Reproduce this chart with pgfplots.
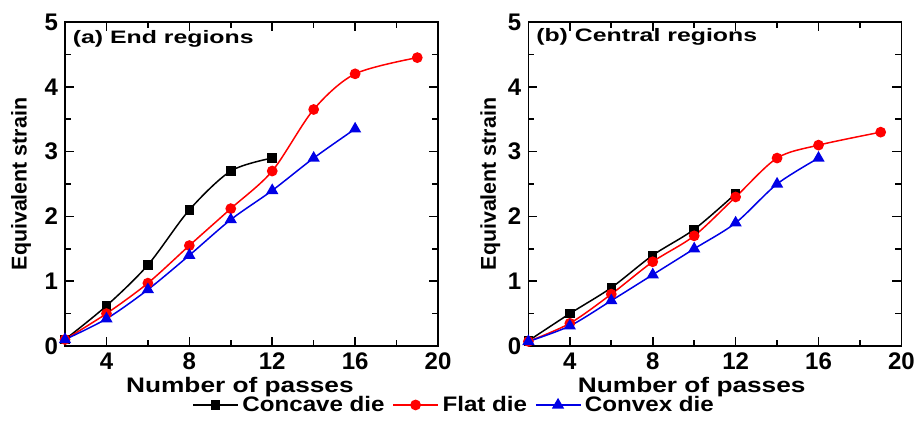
\documentclass[border=0pt]{standalone}
\usepackage{pgfplots}
\pgfplotsset{compat=1.18}
\usepackage{fontspec}
\setmainfont{Liberation Sans}
\usepackage{graphicx}
\definecolor{myred}{RGB}{255,0,0}
\definecolor{myblue}{RGB}{0,0,230}
\pgfplotsset{
  myax/.style={
    scale only axis, width=186.5pt, height=162pt,
    xmin=2, xmax=20, ymin=0, ymax=5,
    xtick={4,8,12,16,20}, ytick={0,1,2,3,4,5},
    minor x tick num=1, minor y tick num=1,
    tick align=inside, major tick length=4.5pt, minor tick length=3pt,
    axis line style={line width=0.9pt},
    every tick/.style={line width=0.8pt, black},
    /pgf/number format/assume math mode=true,
    ticklabel style={font=\fontsize{12}{12}\selectfont\bfseries},
    ylabel style={font=\fontsize{10.7}{10.7}\selectfont\bfseries, anchor=center, rotate=0},
    xlabel style={font=\fontsize{10.5}{10.5}\selectfont\bfseries, anchor=center},
    clip=false,
  },
  cc/.style={black, line width=0.75pt, smooth, mark=square*, mark size=2pt, mark options={solid}},
  ff/.style={myred, line width=0.75pt, smooth, mark=*, mark size=2.3pt, mark options={solid}},
  vv/.style={myblue, line width=0.75pt, smooth, mark=triangle*, mark size=2.8pt, mark options={solid}},
}
\begin{document}
\begin{tikzpicture}
\useasboundingbox (0,0) rectangle (457pt,213pt);
% ---------------- (a) ----------------
\begin{axis}[myax, at={(32.5pt,40pt)}, anchor=south west,
  xlabel={\scalebox{1.25}[1]{Number of passes}},
  ylabel={Equivalent strain},
  xlabel style={at={(axis description cs:0.469,-0.1265)}},
  ylabel style={at={(axis description cs:-0.118,0.5)}},
  legend columns=3,
  legend style={draw=none, fill=none, at={(axis description cs:1.046,-0.182)}, anchor=center,
    font=\fontsize{10.5}{10.5}\selectfont\bfseries,
    /tikz/every even column/.append style={column sep=2pt}},
  legend image code/.code={\draw[mark repeat=2,mark phase=2] plot coordinates {(0cm,0cm)(0.39cm,0cm)(0.78cm,0cm)};},
]
\addplot[cc] coordinates {(2,0.1)(4,0.62)(6,1.25)(8,2.1)(10,2.7)(12,2.9)};
\addlegendentry{\scalebox{1.15}[1]{Concave die}}
\addplot[ff] coordinates {(2,0.1)(4,0.5)(6,0.97)(8,1.55)(10,2.12)(12,2.7)(14,3.65)(16,4.2)(19,4.45)};
\addlegendentry{\scalebox{1.15}[1]{Flat die}}
\addplot[vv] coordinates {(2,0.1)(4,0.42)(6,0.87)(8,1.4)(10,1.95)(12,2.4)(14,2.9)(16,3.35)};
\addlegendentry{\scalebox{1.15}[1]{Convex die}}
\node[anchor=west, inner sep=0pt] at (axis description cs:0.02,0.947)
  {\fontsize{9}{9}\selectfont\bfseries\scalebox{1.38}[1]{(a) End regions}};
\end{axis}
% ---------------- (b) ----------------
\begin{axis}[myax, at={(264.2pt,40pt)}, anchor=south west,
  xlabel={\scalebox{1.25}[1]{Number of passes}},
  ylabel={Equivalent strain},
  xlabel style={at={(axis description cs:0.438,-0.1265)}},
  ylabel style={at={(axis description cs:-0.102,0.5)}},
]
\addplot[cc] coordinates {(2,0.08)(4,0.5)(6,0.9)(8,1.4)(10,1.8)(12,2.35)};
\addplot[ff] coordinates {(2,0.07)(4,0.35)(6,0.8)(8,1.3)(10,1.7)(12,2.3)(14,2.9)(16,3.1)(19,3.3)};
\addplot[vv] coordinates {(2,0.07)(4,0.31)(6,0.7)(8,1.1)(10,1.5)(12,1.9)(14,2.5)(16,2.9)};
\node[anchor=west, inner sep=0pt] at (axis description cs:0.02,0.955)
  {\fontsize{9}{9}\selectfont\bfseries\scalebox{1.38}[1]{(b) Central regions}};
\end{axis}
\end{tikzpicture}
\end{document}
